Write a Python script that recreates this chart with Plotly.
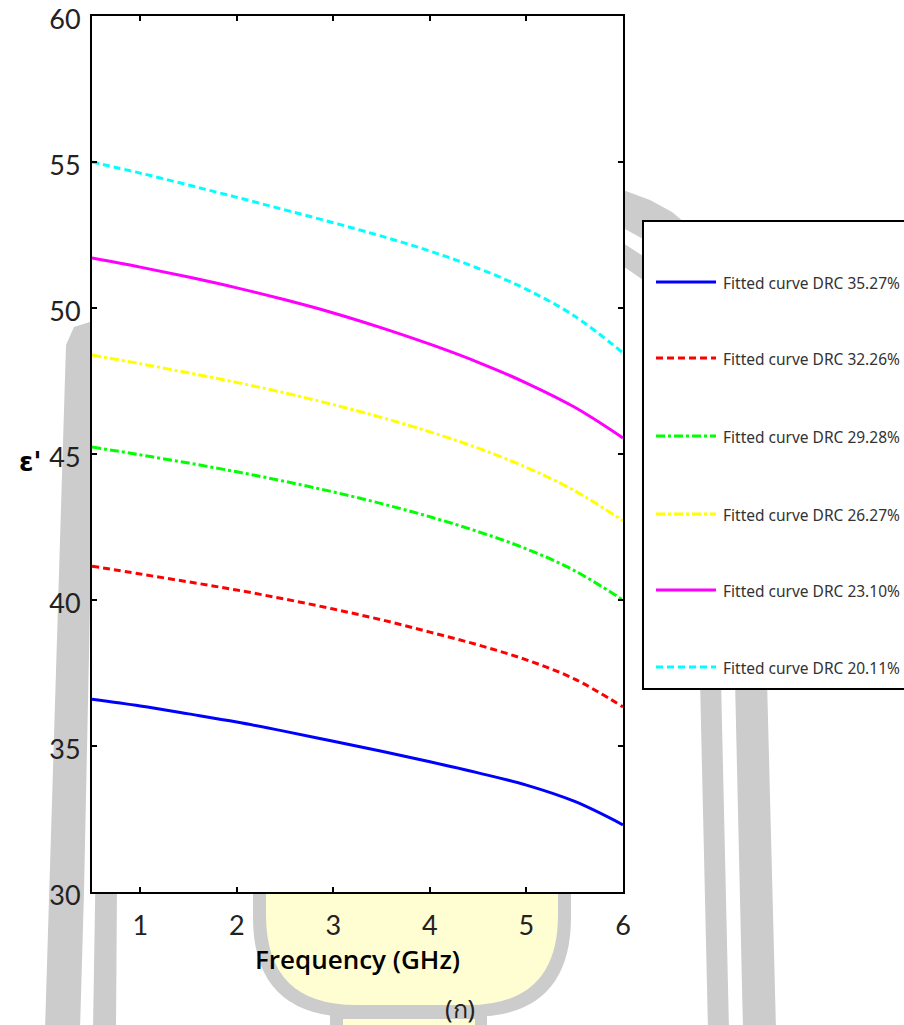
import plotly.graph_objects as go

# Frequency grid (GHz) and fitted permittivity curves for each DRC level
freq_ghz = [0.5, 1.0, 1.5, 2.0, 2.5, 3.0, 3.5, 4.0, 4.5, 5.0, 5.5, 6.0]

eps_drc_35_27 = [36.60, 36.37, 36.10, 35.82, 35.50, 35.16, 34.82, 34.46, 34.08, 33.66, 33.10, 32.30]
eps_drc_32_26 = [41.16, 40.89, 40.62, 40.34, 40.03, 39.69, 39.32, 38.90, 38.46, 37.95, 37.29, 36.34]
eps_drc_29_28 = [45.24, 44.97, 44.69, 44.39, 44.06, 43.70, 43.30, 42.85, 42.34, 41.75, 41.00, 40.00]
eps_drc_26_27 = [48.39, 48.09, 47.78, 47.45, 47.09, 46.69, 46.25, 45.76, 45.20, 44.54, 43.74, 42.71]
eps_drc_23_10 = [51.71, 51.40, 51.06, 50.69, 50.28, 49.83, 49.32, 48.76, 48.14, 47.43, 46.60, 45.55]
eps_drc_20_11 = [55.00, 54.62, 54.21, 53.79, 53.36, 52.92, 52.46, 51.95, 51.36, 50.64, 49.72, 48.46]

series_names = [
    "Fitted curve DRC 35.27%",
    "Fitted curve DRC 32.26%",
    "Fitted curve DRC 29.28%",
    "Fitted curve DRC 26.27%",
    "Fitted curve DRC 23.10%",
    "Fitted curve DRC 20.11%",
]
series_values = [eps_drc_35_27, eps_drc_32_26, eps_drc_29_28,
                 eps_drc_26_27, eps_drc_23_10, eps_drc_20_11]
series_colors = ["#0000ff", "#ff0000", "#00ff00", "#ffff00", "#ff00ff", "#00ffff"]
series_dash = ["solid", "7px,4px", "9px,3px,3px,3px", "9px,3px,3px,3px", "solid", "7px,4px"]

x_ticks = [1, 2, 3, 4, 5, 6]
y_ticks = [30, 35, 40, 45, 50, 55, 60]

W, H = 904, 1025
L, R, T, B = 92, 623, 16, 892  # plot-area edges in pixels


def px(xp):
    return (xp - L) / (R - L)


def py(yp):
    return (B - yp) / (B - T)


def path(points, close=True):
    d = "M " + " L ".join(f"{px(a):.5f},{py(b):.5f}" for a, b in points)
    return d + (" Z" if close else "")


fig = go.Figure()
for name, vals, col, dash in zip(series_names, series_values, series_colors, series_dash):
    fig.add_trace(go.Scatter(
        x=freq_ghz, y=vals, mode="lines", name=name,
        line=dict(color=col, width=3, dash=dash, shape="spline", smoothing=1.0),
        showlegend=False,
    ))

GRAY = "#cccccc"
YEL = "#fffdd2"
shapes = []

# background emblem: slanted bars on the left
shapes.append(dict(type="path", xref="paper", yref="paper", layer="below",
                   path=path([(66, 345), (74, 327), (96, 320), (84, 892), (80, 1030), (45, 1030)]),
                   fillcolor=GRAY, line=dict(width=0)))
shapes.append(dict(type="path", xref="paper", yref="paper", layer="below",
                   path=path([(100, 600), (119, 600), (116, 1030), (93, 1030)]),
                   fillcolor=GRAY, line=dict(width=0)))
# arcs near the upper right
shapes.append(dict(type="path", xref="paper", yref="paper", layer="below",
                   path=path([(623, 190), (650, 200), (672, 212), (684, 222), (645, 240), (623, 228)]),
                   fillcolor=GRAY, line=dict(width=0)))
shapes.append(dict(type="path", xref="paper", yref="paper", layer="below",
                   path=path([(623, 243), (643, 256), (643, 280), (623, 266)]),
                   fillcolor=GRAY, line=dict(width=0)))
# bars under the legend box
shapes.append(dict(type="path", xref="paper", yref="paper", layer="below",
                   path=path([(700, 680), (721, 680), (729, 1030), (708, 1030)]),
                   fillcolor=GRAY, line=dict(width=0)))
shapes.append(dict(type="path", xref="paper", yref="paper", layer="below",
                   path=path([(735, 680), (767, 680), (776, 1030), (743, 1030)]),
                   fillcolor=GRAY, line=dict(width=0)))


def blob(x0, x1, y0, y1, r):
    d = f"M {px(x0):.5f},{py(y0):.5f} L {px(x0):.5f},{py(y1 - r):.5f} "
    d += f"Q {px(x0):.5f},{py(y1):.5f} {px(x0 + r):.5f},{py(y1):.5f} "
    d += f"L {px(x1 - r):.5f},{py(y1):.5f} "
    d += f"Q {px(x1):.5f},{py(y1):.5f} {px(x1):.5f},{py(y1 - r):.5f} "
    d += f"L {px(x1):.5f},{py(y0):.5f} Z"
    return d


# rounded emblem at the bottom centre
shapes.append(dict(type="path", xref="paper", yref="paper", layer="below",
                   path=blob(253, 571, 850, 1017, 100), fillcolor=GRAY, line=dict(width=0)))
shapes.append(dict(type="path", xref="paper", yref="paper", layer="below",
                   path=path([(330, 1000), (487, 1000), (487, 1030), (330, 1030)]),
                   fillcolor=GRAY, line=dict(width=0)))
shapes.append(dict(type="path", xref="paper", yref="paper", layer="below",
                   path=blob(266, 558, 850, 1005, 90), fillcolor=YEL, line=dict(width=0)))
shapes.append(dict(type="path", xref="paper", yref="paper", layer="below",
                   path=path([(343, 1019), (475, 1019), (475, 1030), (343, 1030)]),
                   fillcolor=YEL, line=dict(width=0)))

# opaque plot area
shapes.append(dict(type="rect", xref="x domain", yref="y domain", layer="below",
                   x0=0, x1=1, y0=0, y1=1, fillcolor="white", line=dict(width=0)))

# legend box
LEG_X0, LEG_Y0, LEG_Y1 = 643, 221, 689
shapes.append(dict(type="rect", xref="paper", yref="paper", layer="above",
                   x0=px(LEG_X0), x1=px(920), y0=py(LEG_Y1), y1=py(LEG_Y0),
                   fillcolor="white", line=dict(color="black", width=2)))

legend_rows = [282, 358, 436, 514, 590, 667]
annotations = []
for name, col, dash, yrow in zip(series_names, series_colors, series_dash, legend_rows):
    shapes.append(dict(type="line", xref="paper", yref="paper", layer="above",
                       x0=px(656), x1=px(716), y0=py(yrow), y1=py(yrow),
                       line=dict(color=col, width=3, dash=dash)))
    annotations.append(dict(x=px(721), y=py(yrow + 1), xref="paper", yref="paper",
                            text=name, showarrow=False, xanchor="left", yanchor="middle",
                            font=dict(family="Noto Sans", size=15.5, color="#333333")))

annotations.append(dict(x=px(30), y=py(462), xref="paper", yref="paper", text="<b>ε'</b>",
                        showarrow=False, xanchor="center", yanchor="middle",
                        font=dict(family="DejaVu Sans", size=26, color="black")))
annotations.append(dict(x=px(460), y=py(1008), xref="paper", yref="paper", text="(ก)",
                        showarrow=False, xanchor="center", yanchor="middle",
                        font=dict(family="Noto Sans", size=25, color="#222222")))

fig.update_layout(
    width=W, height=H,
    margin=dict(l=L, r=W - R, t=T, b=H - B, pad=0, autoexpand=False),
    paper_bgcolor="white", plot_bgcolor="rgba(0,0,0,0)",
    shapes=shapes, annotations=annotations, showlegend=False,
    xaxis=dict(range=[0.5, 6], tickvals=x_ticks, ticks="inside", ticklen=5, tickwidth=1.5,
               tickcolor="black", showline=True, linecolor="black", linewidth=2,
               mirror="ticks", showgrid=False, zeroline=False, ticklabelstandoff=9,
               ticklabeloverflow="allow", automargin=False,
               tickfont=dict(family="Lato", size=27, color="#222222"),
               title=dict(text="Frequency (GHz)", standoff=4,
                          font=dict(family="Open Sans", size=26, color="black", weight=600))),
    yaxis=dict(range=[30, 60], tickvals=y_ticks, ticks="inside", ticklen=5, tickwidth=1.5,
               tickcolor="black", showline=True, linecolor="black", linewidth=2,
               mirror="ticks", showgrid=False, zeroline=False, ticklabelstandoff=4,
               ticklabelshift=4, ticklabeloverflow="allow", automargin=False,
               tickfont=dict(family="Lato", size=27, color="#222222")),
)

fig.write_html("out.html")
